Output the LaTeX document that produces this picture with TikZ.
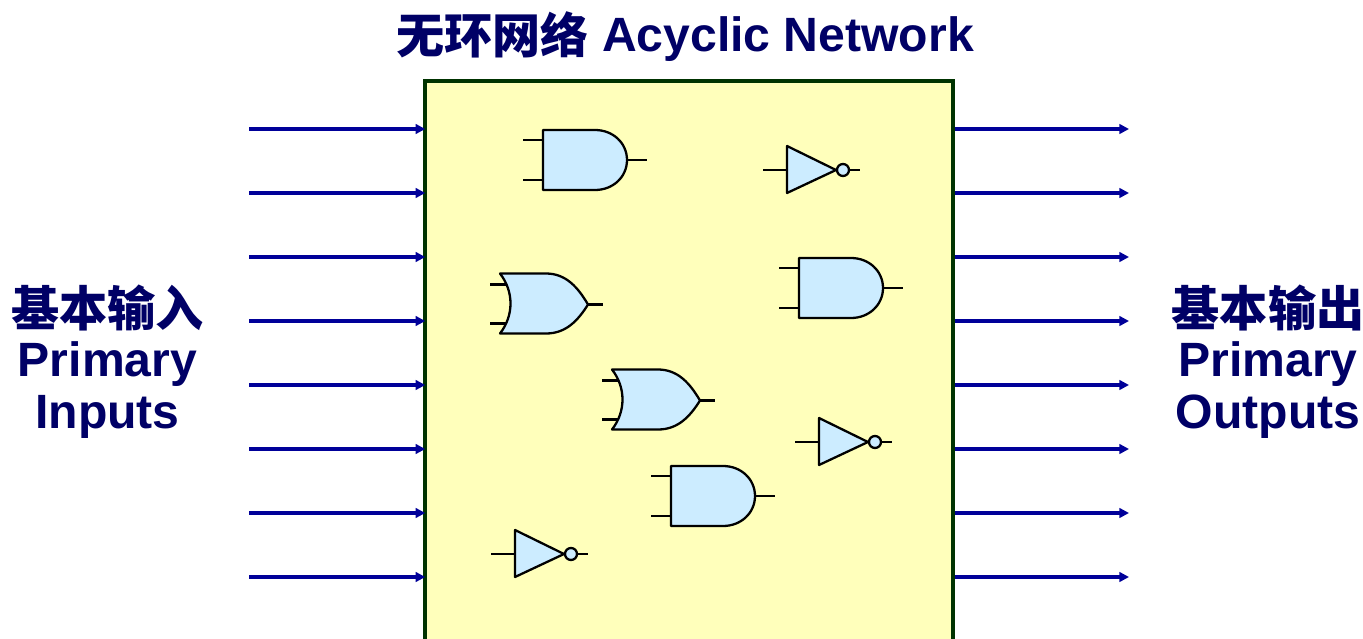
\documentclass[tikz,border=0pt]{standalone}
\usepackage{fontspec}
\usepackage{tikz}
\usetikzlibrary{arrows.meta}
\setmainfont{Liberation Sans}
\newfontfamily\cjk{Noto Sans CJK SC}
\newcommand{\cjklabel}[1]{\raisebox{-1.1pt}{\cjk #1}}
\definecolor{netfill}{HTML}{FFFFBB}
\definecolor{netline}{HTML}{003300}
\definecolor{gatefill}{HTML}{CCECFF}
\definecolor{wireblue}{HTML}{000099}
\definecolor{labelblue}{HTML}{000066}
\tikzset{
  gatebody/.style={draw=black,fill=gatefill,line width=1.3pt,line join=round},
  gatelead/.style={draw=black,line width=1.7pt},
  wire/.style={wireblue,line width=2pt,-{Triangle[length=5.5pt,width=5.5pt]}},
  biglabel/.style={text=labelblue,font=\fontsize{27.4}{29.5}\selectfont\bfseries,align=center,inner sep=0pt},
  andgate/.pic={
    \draw[gatelead] (-20,10) -- (0,10);
    \draw[gatelead] (-20,50) -- (0,50);
    \draw[gatelead] (84,30) -- (104,30);
    \draw[gatebody] (0,0) -- (52,0) .. controls (70,0) and (84,13) .. (84,30)
      .. controls (84,47) and (70,60) .. (52,60) -- (0,60) -- cycle;
  },
  orgate/.pic={
    \draw[gatelead] (-10,11) -- (8,11);
    \draw[gatelead] (-10,50) -- (8,50);
    \draw[gatelead] (88,31) -- (103,31);
    \draw[gatebody] (0,0) -- (46,0) .. controls (66,0) and (78,14) .. (88,31)
      .. controls (78,47) and (66,60) .. (46,60) -- (0,60)
      .. controls (14,42) and (14,18) .. (0,0) -- cycle;
  },
  invgate/.pic={
    \draw[gatelead] (-24,24) -- (0,24);
    \draw[gatelead] (56,24) -- (73,24);
    \draw[gatebody] (0,0) -- (49,24) -- (0,47) -- cycle;
    \draw[gatebody] (56,24) circle (6);
  },
}

\begin{document}
\begin{tikzpicture}[x=0.02cm,y=-0.02cm]
\useasboundingbox (0,0) rectangle (1363,639);
\clip (0,0) rectangle (1363,639);
\node[draw=netline,fill=netfill,line width=1.8pt,minimum width=10.56cm,minimum height=11.56cm,inner sep=0pt] (net) at (689,370) {};
\node[biglabel] (title) at (685,37) {\cjklabel{无环网络} Acyclic Network};
\node[biglabel] (inlabel) at (107.5,362) {\cjklabel{基本输入}\\Primary\\Inputs};
\node[biglabel] (outlabel) at (1268,362) {\cjklabel{基本输出}\\Primary\\Outputs};
% primary inputs and outputs
\foreach \i/\y in {1/129,2/193,3/257,4/321,5/385,6/449,7/513,8/577} {
  \coordinate (in\i) at (249,\y);
  \coordinate (out\i) at (1129,\y);
  \draw[wire,shorten >=-1pt] (in\i) -- (in\i -| net.west);
  \draw[wire] (out\i -| net.east) -- (out\i);
}
% gates
\pic (andA) at (543,130) {andgate};
\pic (andB) at (799,258) {andgate};
\pic (andC) at (671,466) {andgate};
\pic (orA) at (500,273.5) {orgate};
\pic (orB) at (612,369.5) {orgate};
\pic (invA) at (787,146) {invgate};
\pic (invB) at (819,418) {invgate};
\pic (invC) at (515,530) {invgate};
\end{tikzpicture}
\end{document}
